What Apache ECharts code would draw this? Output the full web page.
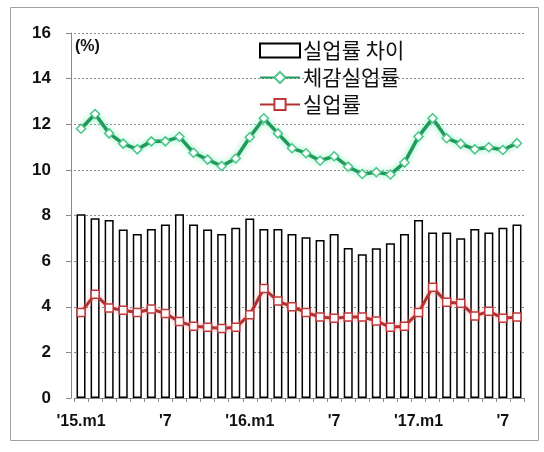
<!DOCTYPE html>
<html>
<head>
<meta charset="utf-8">
<script src="https://cdn.jsdelivr.net/npm/echarts@6/dist/echarts.min.js"></script>
<style>
html,body{margin:0;padding:0;background:#fff;}
#c{width:544px;height:452px;}
</style>
</head>
<body>
<div id="c"></div>
<script>
var categories = [
  "'15.m1","'15.m2","'15.m3","'15.m4","'15.m5","'15.m6","'15.m7","'15.m8","'15.m9","'15.m10","'15.m11","'15.m12",
  "'16.m1","'16.m2","'16.m3","'16.m4","'16.m5","'16.m6","'16.m7","'16.m8","'16.m9","'16.m10","'16.m11","'16.m12",
  "'17.m1","'17.m2","'17.m3","'17.m4","'17.m5","'17.m6","'17.m7","'17.m8"
];
var gapValues = [8.05, 7.88, 7.8, 7.39, 7.19, 7.41, 7.61, 8.06, 7.61, 7.39, 7.19, 7.46,
                 7.87, 7.41, 7.41, 7.19, 7.05, 6.93, 7.19, 6.57, 6.3, 6.56, 6.78, 7.19,
                 7.8, 7.26, 7.26, 7.0, 7.41, 7.26, 7.46, 7.61];
var perceivedValues = [11.8, 12.45, 11.6, 11.15, 10.9, 11.25, 11.25, 11.45, 10.75, 10.45, 10.17, 10.5,
                       11.43, 12.26, 11.6, 10.95, 10.73, 10.4, 10.6, 10.14, 9.82, 9.9, 9.8, 10.32,
                       11.46, 12.26, 11.39, 11.14, 10.9, 10.99, 10.87, 11.17];
var unempValues = [3.75, 4.55, 3.95, 3.85, 3.75, 3.9, 3.7, 3.35, 3.15, 3.1, 3.05, 3.1,
                   3.65, 4.8, 4.25, 4.0, 3.75, 3.55, 3.5, 3.55, 3.55, 3.38, 3.1, 3.15,
                   3.75, 4.85, 4.2, 4.15, 3.6, 3.8, 3.5, 3.55];
var yTicks = {min: 0, max: 16, interval: 2};
var seriesNames = ['실업률 차이', '체감실업률', '실업률'];

var chart = echarts.init(document.getElementById('c'), null, {renderer: 'canvas'});
var numFont = '"Liberation Sans", Arial, sans-serif';
var krFont = '"Noto Sans CJK KR", "Noto Sans", sans-serif';
chart.setOption({
  animation: false,
  backgroundColor: '#fff',
  grid: {left: 74, right: 20, top: 33, bottom: 54, containLabel: false},
  graphic: [
    {type: 'rect', shape: {x: 10.5, y: 7.5, width: 528, height: 433},
     style: {fill: 'none', stroke: '#a0a0a0', lineWidth: 1}, silent: true},
    {type: 'text', left: 75, top: 39,
     style: {text: '(%)', font: 'bold 16px ' + numFont, fill: '#111'}}
  ],
  legend: {
    orient: 'vertical',
    left: 254,
    top: 34,
    itemWidth: 40,
    itemHeight: 14,
    itemGap: 4,
    data: [
      {name: seriesNames[0], icon: 'rect'},
      {name: seriesNames[1]},
      {name: seriesNames[2]}
    ],
    textStyle: {fontFamily: krFont, fontSize: 21, color: '#111', lineHeight: 23, padding: [0,0,0,-2]}
  },
  xAxis: {
    type: 'category',
    data: categories,
    boundaryGap: true,
    axisLine: {lineStyle: {color: '#888', width: 1}},
    axisTick: {show: true, interval: 0, length: 4, lineStyle: {color: '#888'}},
    axisLabel: {
      interval: 5,
      margin: 16,
      fontFamily: numFont,
      fontWeight: 'bold',
      fontSize: 16,
      color: '#111',
      formatter: function (v) {
        return v.indexOf('.m1') === v.length - 3 ? v : "'" + v.split('.m')[1];
      }
    }
  },
  yAxis: {
    type: 'value',
    min: yTicks.min, max: yTicks.max, interval: yTicks.interval,
    offset: 3,
    axisLine: {show: true, lineStyle: {color: '#888', width: 1}},
    axisTick: {show: true, length: 5, lineStyle: {color: '#888'}},
    axisLabel: {margin: 20, fontFamily: numFont, fontWeight: 'bold', fontSize: 17, color: '#111'},
    splitLine: {show: true, lineStyle: {type: [2, 2], color: '#8a8a8a', width: 1}}
  },
  series: [
    {
      name: seriesNames[0],
      type: 'bar',
      data: gapValues,
      barWidth: 9,
      itemStyle: {color: '#ffffff', borderColor: '#000', borderWidth: 1.5}
    },
    {
      name: seriesNames[1],
      type: 'line',
      data: perceivedValues,
      symbol: 'diamond',
      symbolSize: 9,
      lineStyle: {color: '#1f9a58', width: 3.5, shadowColor: 'rgba(110,240,180,0.9)', shadowBlur: 6},
      itemStyle: {color: '#ffffff', borderColor: '#4cc58a', borderWidth: 1.5}
    },
    {
      name: seriesNames[2],
      type: 'line',
      data: unempValues,
      symbol: 'rect',
      symbolSize: 8,
      lineStyle: {color: '#b3322f', width: 3, shadowColor: 'rgba(255,150,160,0.8)', shadowBlur: 5},
      itemStyle: {color: '#ffffff', borderColor: '#c0393a', borderWidth: 1.5}
    }
  ]
});
</script>
</body>
</html>
